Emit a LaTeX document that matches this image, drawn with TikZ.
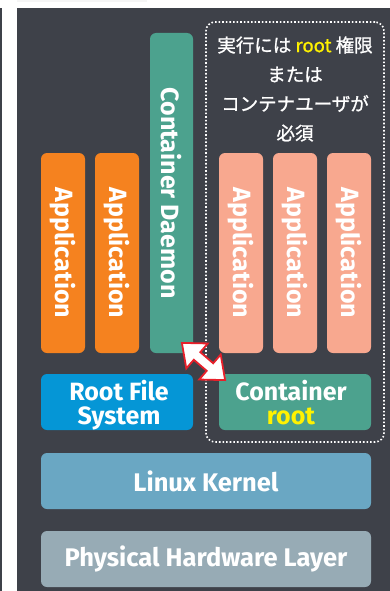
\documentclass[tikz,border=0pt]{standalone}
\usepackage{fontspec}
\setmainfont{Fira Sans}
\newfontfamily\jpfont{Noto Sans CJK JP}[FakeBold=1.1]
\definecolor{bgdark}{HTML}{3E4149}
\definecolor{apporange}{HTML}{F5821F}
\definecolor{appsalmon}{HTML}{F8A88F}
\definecolor{teal}{HTML}{4CA28E}
\definecolor{rfsblue}{HTML}{0596D6}
\definecolor{kernelblue}{HTML}{6AA7C3}
\definecolor{hwgray}{HTML}{97ABB5}
\definecolor{rootyellow}{HTML}{FFF200}
\definecolor{arrowred}{HTML}{E8202A}
\tikzset{
  layerbox/.style={rounded corners=6pt, inner sep=0pt, text=white,
    font=\fontsize{25.5}{22}\selectfont\bfseries, align=center},
  vbox/.style={layerbox, font=\fontsize{25}{22}\selectfont\bfseries, rotate=-90},
  boxtext/.style={inner sep=0pt, text=white, font=\fontsize{25}{22}\selectfont\bfseries, anchor=base},
}
\begin{document}
\begin{tikzpicture}[x=1pt,y=-1pt]
\useasboundingbox (0,0) rectangle (390,591);
\fill[white] (0,0) rectangle (390,591);
% faint top remnant and left strip
\fill[gray!8] (17,0) rectangle (147,2);
\fill[bgdark] (0,8) rectangle (2,591);
% main panel
\fill[bgdark] (17,8) rectangle (390,591);

% dotted container region
\node[draw=white, dotted, line width=1.6pt, rounded corners=9pt,
  minimum width=178pt, minimum height=420pt, inner sep=0pt] (region) at (295,232) {};
\node[text=white, font=\jpfont\fontsize{18.5}{29.3}\selectfont, align=center] (note) at (295,89)
  {実行には {\color{rootyellow}root} 権限\\または\\コンテナユーザが\\必須};

% applications
\node[vbox, fill=apporange, minimum width=200pt, minimum height=44pt] (app1) at (63,253) {Application};
\node[vbox, fill=apporange, minimum width=200pt, minimum height=44pt] (app2) at (117,253) {Application};
\node[vbox, fill=teal, minimum width=320pt, minimum height=43pt] (daemon) at (171.5,193) {Container Daemon};
\node[vbox, fill=appsalmon, minimum width=200pt, minimum height=44pt] (app3) at (241,253) {Application};
\node[vbox, fill=appsalmon, minimum width=200pt, minimum height=44pt] (app4) at (295,253) {Application};
\node[vbox, fill=appsalmon, minimum width=200pt, minimum height=44pt] (app5) at (349,253) {Application};

% file systems
\node[layerbox, fill=rfsblue, minimum width=152pt, minimum height=56pt] (rfs) at (117,402) {};
\node[boxtext] (rfs1) at (119,400) {Root File};
\node[boxtext] (rfs2) at (119,424) {System};
\node[layerbox, fill=teal, minimum width=152pt, minimum height=56pt] (croot) at (295,402) {};
\node[boxtext] (croot1) at (291,400) {Container};
\node[boxtext, text=rootyellow] (croot2) at (291,424) {root};

% lower layers
\node[layerbox, fill=kernelblue, minimum width=330pt, minimum height=56pt] (kernel) at (206,481) {Linux Kernel};
\node[layerbox, fill=hwgray, minimum width=330pt, minimum height=56pt] (hw) at (206,559) {Physical Hardware Layer};

% double arrow between daemon and container root
\begin{scope}[shift={(203.5,361.5)}, rotate=-40.7]
\draw[arrowred, fill=white, line width=1.8pt, line join=miter]
  (-28.5,0) -- (-8.5,16.5) -- (-8.5,5) -- (8.5,5) -- (8.5,16.5) -- (28.5,0)
  -- (8.5,-16.5) -- (8.5,-5) -- (-8.5,-5) -- (-8.5,-16.5) -- cycle;
\end{scope}
\end{tikzpicture}
\end{document}
